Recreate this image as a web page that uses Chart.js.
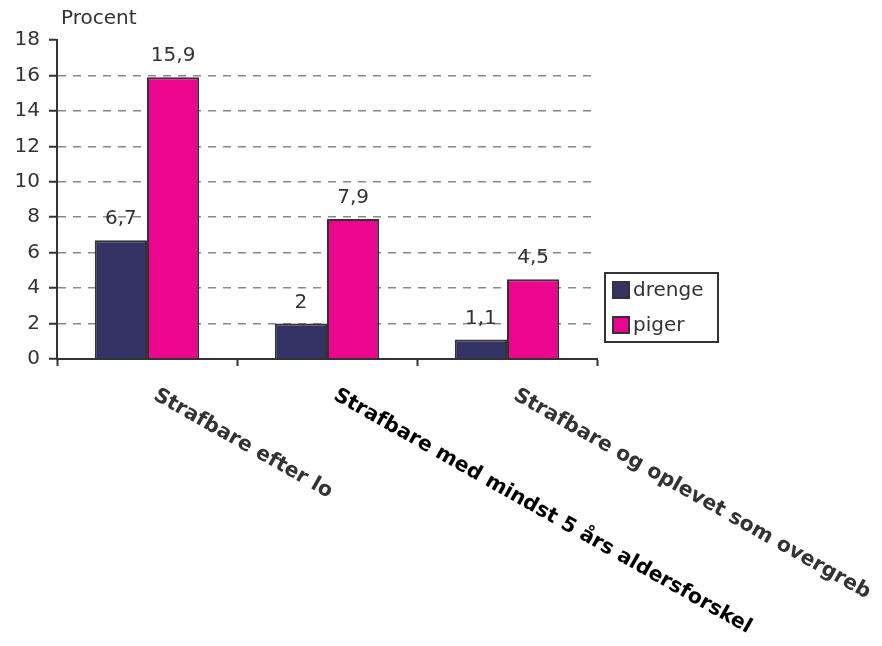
<!DOCTYPE html>
<html>
<head>
<meta charset="utf-8">
<script src="https://cdn.jsdelivr.net/npm/chart.js@4"></script>
<style>
  html, body { margin: 0; padding: 0; background: #fff; }
  #wrap { width: 882px; height: 646px; }
</style>
</head>
<body>
<div id="wrap"><canvas id="graph"></canvas></div>
<script>
const categories = ['Strafbare efter lo', 'Strafbare med mindst 5 års aldersforskel', 'Strafbare og oplevet som overgreb'];
const drenge = [6.7, 2, 1.1];
const piger = [15.9, 7.9, 4.5];
const yTicks = [0, 2, 4, 6, 8, 10, 12, 14, 16, 18];
const yTitle = 'Procent';

const labelColors = ['#333333', '#000000', '#333333'];
const font = 'DejaVu Sans';

// value labels, axis title, rotated category labels and the legend box
const extras = {
    id: 'extras',
    afterDatasetsDraw(chart) {
        const ctx = chart.ctx;
        const area = chart.chartArea;
        ctx.save();

        ctx.fillStyle = '#333';
        ctx.font = '20px "' + font + '"';
        ctx.textAlign = 'center';
        ctx.textBaseline = 'alphabetic';
        chart.data.datasets.forEach((ds, i) => {
            chart.getDatasetMeta(i).data.forEach((bar, j) => {
                ctx.fillText(String(ds.data[j]).replace('.', ','), bar.x, bar.y - 16);
            });
        });

        ctx.textAlign = 'left';
        ctx.textBaseline = 'middle';
        ctx.fillText(yTitle, area.left + 4, area.top - 21);

        const xs = chart.scales.x;
        ctx.font = 'bold 20.5px "' + font + '"';
        categories.forEach((c, i) => {
            const x = xs.getPixelForValue(i);
            ctx.save();
            ctx.translate(x + 8, area.bottom + 35);
            ctx.rotate(29.5 * Math.PI / 180);
            ctx.fillStyle = labelColors[i];
            ctx.textAlign = 'left';
            ctx.textBaseline = 'middle';
            ctx.fillText(c, 0, 0);
            ctx.restore();
        });

        // legend
        const lx = area.right + 8, ly = 273;
        ctx.strokeStyle = '#333';
        ctx.lineWidth = 2;
        ctx.strokeRect(lx, ly, 113, 69);
        ctx.font = '20px "' + font + '"';
        chart.data.datasets.forEach((ds, i) => {
            const y = ly + 17 + i * 35;
            ctx.fillStyle = ds.backgroundColor;
            ctx.fillRect(lx + 8, y - 8, 16, 16);
            ctx.strokeRect(lx + 8, y - 8, 16, 16);
            ctx.fillStyle = '#333';
            ctx.fillText(ds.label, lx + 28, y + 1);
        });
        ctx.restore();
    }
};

const ctx = document.getElementById('graph').getContext('2d');
const graph = new Chart(ctx, {
    type: 'bar',
    data: {
        labels: categories,
        datasets: [
            { label: 'drenge', data: drenge, backgroundColor: '#333366', borderColor: '#333', borderWidth: 2 },
            { label: 'piger', data: piger, backgroundColor: '#ec058e', borderColor: '#333', borderWidth: 2 }
        ]
    },
    options: {
        responsive: true,
        maintainAspectRatio: false,
        animation: false,
        layout: { padding: { top: 40, right: 285, left: 0, bottom: 0 } },
        datasets: { bar: { categoryPercentage: 0.58, barPercentage: 1.0 } },
        plugins: { legend: { display: false }, tooltip: { enabled: false } },
        scales: {
            x: {
                grid: { drawOnChartArea: false, tickLength: 7, tickColor: '#333', tickWidth: 2 },
                border: { color: '#333', width: 2 },
                ticks: { color: 'rgba(0,0,0,0)', maxRotation: 0, autoSkip: false },
                afterFit: (scale) => { scale.height = 287; }
            },
            y: {
                min: 0,
                max: 18,
                afterBuildTicks: (scale) => { scale.ticks = yTicks.map(v => ({ value: v })); },
                grid: {
                    color: (c) => (c.tick && c.tick.value === 18) || (c.tick && c.tick.value === 0) ? 'rgba(0,0,0,0)' : '#888',
                    lineWidth: 1.5,
                    tickLength: 8,
                    tickColor: '#333',
                    tickWidth: 2,
                    tickBorderDash: []
                },
                border: { color: '#333', width: 2, dash: [8, 7] },
                ticks: { color: '#333', font: { family: font, size: 20 }, padding: 9 },
                afterFit: (scale) => { scale.width = 57; }
            }
        }
    },
    plugins: [extras]
});
</script>
</body>
</html>
